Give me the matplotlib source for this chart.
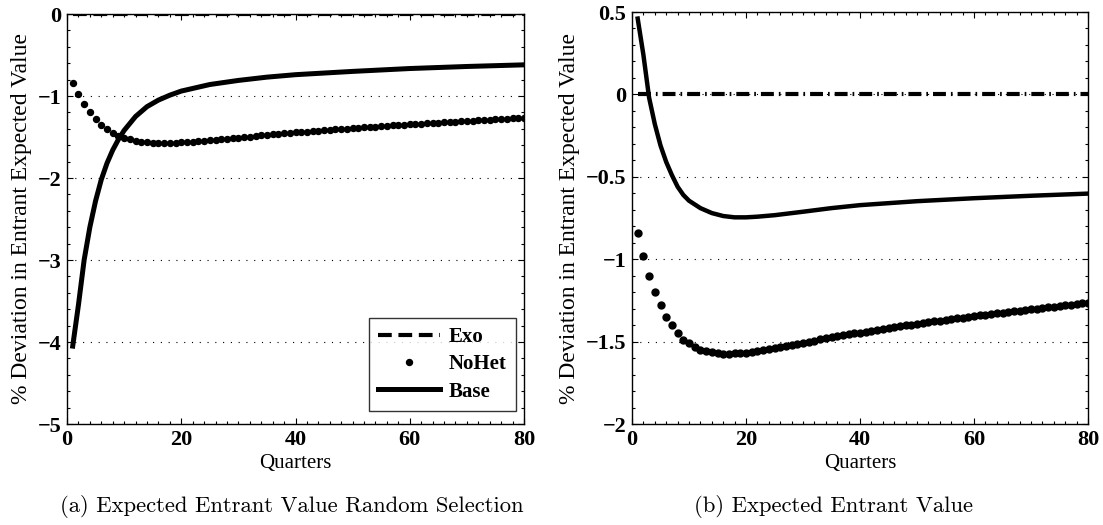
import matplotlib
matplotlib.use("Agg")
import matplotlib.pyplot as plt
from matplotlib.ticker import MultipleLocator, FuncFormatter
import numpy as np

quarters = np.arange(1, 81)
nohet = [-0.84, -0.98, -1.10, -1.20, -1.28, -1.35, -1.40, -1.45, -1.49, -1.51,
         -1.53, -1.55, -1.56, -1.565, -1.57, -1.573, -1.573, -1.572, -1.57, -1.567,
         -1.563, -1.558, -1.553, -1.547, -1.54, -1.534, -1.527, -1.52, -1.514, -1.507,
         -1.50, -1.494, -1.487, -1.48, -1.474, -1.468, -1.462, -1.456, -1.45, -1.445,
         -1.44, -1.434, -1.428, -1.423, -1.418, -1.412, -1.407, -1.402, -1.397, -1.392,
         -1.387, -1.382, -1.377, -1.372, -1.368, -1.363, -1.358, -1.354, -1.349, -1.345,
         -1.341, -1.336, -1.332, -1.328, -1.324, -1.32, -1.316, -1.312, -1.308, -1.304,
         -1.30, -1.296, -1.292, -1.288, -1.284, -1.28, -1.276, -1.272, -1.268, -1.264]

base_a_x = [1, 2, 3, 4, 5, 6, 7, 8, 9, 10, 12, 14, 16, 18, 20, 25, 30, 35, 40, 50, 60, 70, 80]
base_a_y = [-4.05, -3.55, -3.0, -2.6, -2.28, -2.02, -1.82, -1.66, -1.53, -1.42, -1.25, -1.13,
            -1.05, -0.99, -0.94, -0.86, -0.81, -0.77, -0.74, -0.70, -0.665, -0.64, -0.62]

base_b_x = [1, 2, 3, 4, 5, 6, 7, 8, 9, 10, 12, 14, 16, 18, 20, 22, 25, 30, 35, 40, 50, 60, 70, 80]
base_b_y = [0.46, 0.24, -0.02, -0.18, -0.31, -0.41, -0.49, -0.56, -0.61, -0.645, -0.69, -0.72,
            -0.738, -0.746, -0.746, -0.742, -0.733, -0.712, -0.69, -0.672, -0.648, -0.63, -0.615, -0.602]

exo = [0.0] * 80

yticks_a = [0, -1, -2, -3, -4, -5]
yticks_b = [0.5, 0, -0.5, -1, -1.5, -2]
xticks = [0, 20, 40, 60, 80]

ylabel = "% Deviation in Entrant Expected Value"
xlabel = "Quarters"
captions = ["(a) Expected Entrant Value Random Selection", "(b) Expected Entrant Value"]

serif = "Liberation Serif"
W, H = 1103, 525
fig = plt.figure(figsize=(W / 100, H / 100), dpi=100)
ax1 = fig.add_axes([67 / W, 1 - 424 / H, 457 / W, 410 / H])
ax2 = fig.add_axes([632 / W, 1 - 424 / H, 456 / W, 412 / H])

fmt = FuncFormatter(lambda v, p: ("%g" % v).replace("-", "\u2212"))

def style(ax, yt, minor_y):
    ax.set_xlim(0, 80)
    ax.set_xticks(xticks)
    ax.set_yticks(yt)
    ax.set_ylim(min(yt), max(yt))
    ax.yaxis.set_major_formatter(fmt)
    ax.xaxis.set_minor_locator(MultipleLocator(2))
    ax.yaxis.set_minor_locator(MultipleLocator(minor_y))
    ax.tick_params(which="both", direction="in", top=True, right=True, width=0.8)
    ax.tick_params(which="major", length=4.5, labelsize=16, pad=4)
    ax.tick_params(which="minor", length=2.5)
    for lab in ax.get_xticklabels() + ax.get_yticklabels():
        lab.set_fontfamily(serif)
        lab.set_fontweight("bold")
    for s in ax.spines.values():
        s.set_linewidth(1.0)
    ax.yaxis.grid(True, which="major", color="black", linestyle=(0, (1, 6)), linewidth=0.8)
    ax.set_axisbelow(True)
    ax.set_ylabel(ylabel, fontfamily=serif, fontsize=17, labelpad=4)
    ax.set_xlabel(xlabel, fontfamily=serif, fontsize=15, labelpad=3)

# Panel (a)
ax1.plot(quarters, exo, color="black", linewidth=3, linestyle=(0, (3.3, 1.6)), label="Exo", zorder=2)
ax1.plot(quarters, nohet, linestyle="none", marker="o", markersize=4.3, color="black", label="NoHet", zorder=3)
ax1.plot(base_a_x, base_a_y, color="black", linewidth=3.6, label="Base", zorder=3)
style(ax1, yticks_a, 0.2)
leg = ax1.legend(loc="lower right", bbox_to_anchor=(1 - 8 / 457, 13 / 410),
                 prop={"family": serif, "weight": "bold", "size": 15},
                 frameon=True, fancybox=False, edgecolor="black", handlelength=3.0, borderpad=0.45,
                 labelspacing=0.35, handletextpad=0.4, borderaxespad=0.0)
leg.get_frame().set_linewidth(1.0)

# Panel (b)
ax2.plot(quarters, exo, color="black", linewidth=3, linestyle=(0, (3.1, 1.2, 0.4, 1.2)), zorder=3)
ax2.plot(quarters, nohet, linestyle="none", marker="o", markersize=5, color="black", zorder=3)
ax2.plot(base_b_x, base_b_y, color="black", linewidth=3.2, zorder=3)
style(ax2, yticks_b, 0.1)

fig.text(292 / W, 1 - 507 / H, captions[0], fontfamily="cmr10", fontsize=16.3, ha="center", va="center")
fig.text(834 / W, 1 - 507 / H, captions[1], fontfamily="cmr10", fontsize=16.3, ha="center", va="center")

fig.savefig("out.png", dpi=100)
